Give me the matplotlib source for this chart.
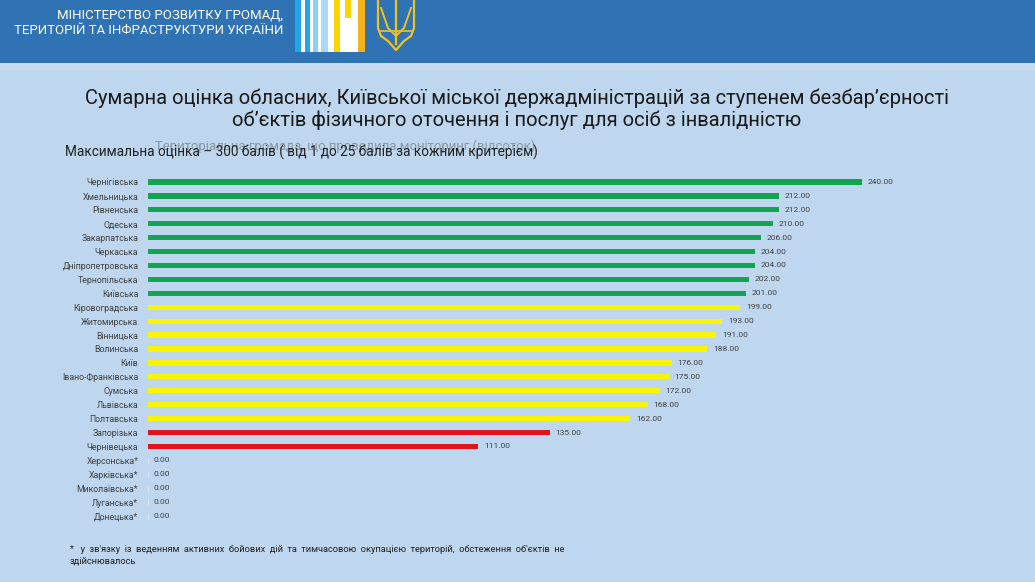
import matplotlib
matplotlib.use('Agg')
import matplotlib.pyplot as plt
from matplotlib.patches import Rectangle

plt.rcParams['font.family'] = ['Roboto', 'DejaVu Sans']

regions = ['Чернігівська', 'Хмельницька', 'Рівненська', 'Одеська', 'Закарпатська',
           'Черкаська', 'Дніпропетровська', 'Тернопільська', 'Київська',
           'Кіровоградська', 'Житомирська', 'Вінницька', 'Волинська', 'Київ',
           'Івано-Франківська', 'Сумська', 'Львівська', 'Полтавська',
           'Запорізька', 'Чернівецька', 'Херсонська*', 'Харківська*',
           'Миколаївська*', 'Луганська*', 'Донецька*']
scores = [240, 212, 212, 210, 206, 204, 204, 202, 201, 199, 193, 191, 188,
          176, 175, 172, 168, 162, 135, 111, 0, 0, 0, 0, 0]

title = ('Сумарна оцінка обласних, Київської міської держадміністрацій за ступенем безбар’єрності\n'
         'об’єктів фізичного оточення і послуг для осіб з інвалідністю')
subtitle = 'Максимальна оцінка – 300 балів ( від 1 до 25 балів за кожним критерієм)'
ghost = 'Територіальна громада, що проводила моніторинг (відсоток)'
note1 = ('*   у  зв\'язку  із  веденням  активних  бойових  дій  та  тимчасовою  окупацією  '
         'територій,  обстеження  об\'єктів  не')
note2 = 'здійснювалось'

GREEN = '#14a352'
YELLOW = '#f8f500'
RED = '#e3131b'
TXT = '#404040'


def bar_color(v):
    if v >= 200:
        return GREEN
    if v >= 150:
        return YELLOW
    return RED


W, H = 1035, 582
fig = plt.figure(figsize=(W / 100, H / 100), dpi=100)
fig.patch.set_facecolor('#bed6ee')

# header band
fig.add_artist(Rectangle((0, 1 - 63 / H), 1, 63 / H, transform=fig.transFigure,
                         facecolor='#2f73b5', edgecolor='none'))
fig.add_artist(Rectangle((0, 1 - 70 / H), 1, 7 / H, transform=fig.transFigure,
                         facecolor='#c6dbf0', edgecolor='none'))
fig.text(283 / W, 1 - 15 / H, 'МІНІСТЕРСТВО РОЗВИТКУ ГРОМАД,', color='white',
         fontsize=9.5, ha='right', va='center')
fig.text(283 / W, 1 - 30 / H, 'ТЕРИТОРІЙ ТА ІНФРАСТРУКТУРИ УКРАЇНИ', color='white',
         fontsize=9.5, ha='right', va='center')

# logo stripes
stripes = [(295, 301, '#22a6e0', 52), (301, 305, 'white', 52), (305, 310, '#22a6e0', 52),
           (310, 313, 'white', 52), (313, 318, '#8fd0f0', 52), (318, 321, 'white', 52),
           (321, 328, '#a8dcf4', 52), (328, 334, 'white', 52), (334, 340, '#ffd400', 52),
           (340, 358, 'white', 52), (345, 351, '#ffd400', 18), (358, 365, '#f5b21a', 52)]
for x0, x1, c, h in stripes:
    fig.add_artist(Rectangle((x0 / W, 1 - h / H), (x1 - x0) / W, h / H,
                             transform=fig.transFigure, facecolor=c, edgecolor='none'))

# simplified trident
gold = '#f1c21b'
outline_x = [378, 378, 381, 388, 396, 404, 411, 414, 414]
outline_y = [0, 28, 36, 41, 50, 41, 36, 28, 0]
fig.add_artist(plt.Line2D([x / W for x in outline_x], [1 - y / H for y in outline_y],
                          transform=fig.transFigure, color=gold, lw=1.6))
fig.add_artist(plt.Line2D([381 / W, 388 / W, 396 / W, 404 / W, 411 / W],
                          [1 - 8 / H, 1 - 28 / H, 1 - 36 / H, 1 - 28 / H, 1 - 8 / H],
                          transform=fig.transFigure, color=gold, lw=1.4))
fig.add_artist(plt.Line2D([396 / W, 396 / W], [1 - 0 / H, 1 - 44 / H],
                          transform=fig.transFigure, color=gold, lw=1.6))
fig.add_artist(plt.Line2D([380 / W, 412 / W], [1 - 31 / H, 1 - 31 / H],
                          transform=fig.transFigure, color=gold, lw=1.2))

fig.text(517 / W, 1 - 109 / H, title, ha='center', va='center', fontsize=14.5,
         color='#1a1a1a', linespacing=1.15)
fig.text(155 / W, 1 - 146 / H, ghost, ha='left', va='center', fontsize=9.45,
         color='#8a96a3')
fig.text(65 / W, 1 - 152 / H, subtitle, ha='left', va='center', fontsize=9.8,
         color='#222222')

ax = fig.add_axes([148 / W, 1 - 522.96 / H, 773.5 / W, (522.96 - 175.04) / H])
ax.set_facecolor('none')
ypos = list(range(len(regions)))
cols = [bar_color(v) for v in scores]
ax.barh(ypos, scores, height=0.38, color=cols,
        edgecolor=['none' if v else '#d9e6f2' for v in scores], linewidth=0.8)
for y, v in zip(ypos, scores):
    ax.text(v + 2.0, y, f'{v:.2f}', va='center', ha='left', fontsize=6.0, color=TXT)
ax.set_xlim(0, 260)
ax.set_ylim(len(regions) - 0.5, -0.5)
ax.set_yticks(ypos)
ax.set_yticklabels(regions, fontsize=6.3, color=TXT)
ax.tick_params(axis='y', length=0, pad=7)
ax.set_xticks([])
for s in ax.spines.values():
    s.set_visible(False)

fig.text(70 / W, 1 - 549 / H, note1, ha='left', va='center', fontsize=6.7, color='#222222')
fig.text(70 / W, 1 - 561 / H, note2, ha='left', va='center', fontsize=6.7, color='#222222')

fig.savefig('out.png', dpi=100, facecolor=fig.get_facecolor())
